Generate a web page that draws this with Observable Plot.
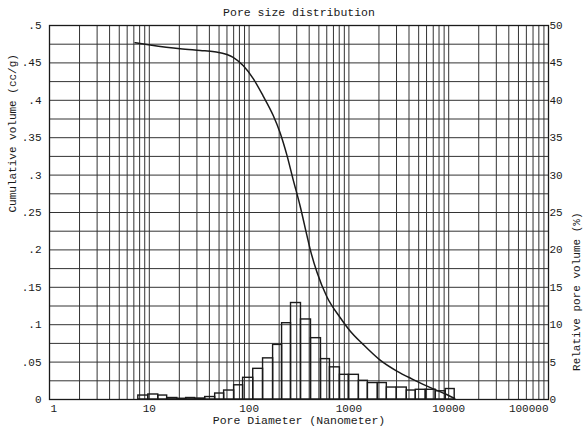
<!DOCTYPE html>
<html>
<head>
<meta charset="utf-8">
<script src="https://cdn.jsdelivr.net/npm/d3@7"></script>
<script src="https://cdn.jsdelivr.net/npm/@observablehq/plot@0.6"></script>
<style>
  html, body { margin: 0; padding: 0; background: #fff; }
</style>
</head>
<body>
<div id="chart"></div>
<script>
// Histogram bin edges (pore diameter, nm) and relative pore volume (%) per bin
const binEdges = [7.76, 9.77, 12.3, 15.1, 19.1, 23.4, 28.8, 36.3, 45.7, 56.2, 70.8, 87.1, 110, 138, 174, 214, 263, 331, 417, 525, 646, 813, 1000, 1259, 1549, 1950, 2399, 3020, 3802, 4677, 5888, 7413, 9333, 11482];
const relVolume = [0.53, 0.67, 0.53, 0.2, 0.1, 0.2, 0.13, 0.33, 0.8, 1.2, 1.9, 2.9, 4.1, 5.5, 7.3, 10.2, 12.9, 10.7, 8.2, 5.4, 4.3, 3.3, 3.3, 2.5, 2.2, 2.2, 1.6, 1.6, 1.2, 1.3, 1.3, 1.1, 1.4];

// Cumulative volume curve (cc/g)
const curveDiameter = [7.2, 10.2, 20.4, 32.4, 45, 60, 69.2, 87.1, 110, 138, 174, 204, 240, 275, 324, 380, 407, 479, 603, 813, 1023, 1380, 2040, 3020, 4365, 6918, 9550, 11482];
const cumVolume = [0.477, 0.474, 0.469, 0.4666, 0.4648, 0.4612, 0.4575, 0.4465, 0.429, 0.406, 0.38, 0.357, 0.326, 0.295, 0.259, 0.219, 0.202, 0.170, 0.137, 0.110, 0.092, 0.074, 0.053, 0.038, 0.027, 0.0145, 0.0067, 0.0013];

// Tick labels
const xTickValues = [1, 10, 100, 1000, 10000, 100000];
const leftTicks = [0, 0.05, 0.1, 0.15, 0.2, 0.25, 0.3, 0.35, 0.4, 0.45, 0.5];
const rightTicks = [0, 5, 10, 15, 20, 25, 30, 35, 40, 45, 50];

const title = "Pore size distribution";
const xLabel = "Pore Diameter (Nanometer)";
const yLabelLeft = "Cumulative volume (cc/g)";
const yLabelRight = "Relative pore volume (%)";

// Derived tables
const bars = relVolume.map((v, i) => ({x1: binEdges[i], x2: binEdges[i + 1], v: v / 100}));
const curve = curveDiameter.map((d, i) => ({d, v: cumVolume[i]}));
const gridX = [];
for (const dec of [1, 10, 100, 1000, 10000]) for (let k = 1; k <= 9; k++) gridX.push(dec * k);
gridX.push(100000);
const gridY = d3.range(0, 0.5001, 0.025);

const font = "Liberation Mono, Courier New, monospace";
const ink = "#1a1a1a";
const leftFmt = d => d === 0 ? "0" : d3.format(".2~f")(d).replace(/^0/, "");

const chart = Plot.plot({
  width: 584,
  height: 428,
  marginLeft: 49,
  marginRight: 36,
  marginTop: 25,
  marginBottom: 29,
  style: {fontFamily: font, fontSize: "11px", background: "#fff", color: ink, overflow: "visible"},
  x: {type: "log", domain: [1, 100000], axis: null},
  y: {domain: [0, 0.5]},
  marks: [
    Plot.ruleX(gridX, {stroke: "#333", strokeWidth: 1}),
    Plot.ruleY(gridY, {stroke: "#333", strokeWidth: 1}),
    Plot.rect(bars, {x1: "x1", x2: "x2", y1: 0, y2: "v", fill: "none", stroke: ink, strokeWidth: 1.4}),
    Plot.line(curve, {x: "d", y: "v", stroke: ink, strokeWidth: 1.5, curve: "monotone-x"}),
    Plot.frame({stroke: ink, strokeWidth: 1.3}),
    Plot.axisY({anchor: "left", ticks: leftTicks, tickSize: 0, tickPadding: 8, tickFormat: leftFmt, label: null, fontSize: 11}),
    Plot.axisY({anchor: "right", ticks: rightTicks.map(d => d / 100), tickSize: 0, tickPadding: 1, tickFormat: d => String(Math.round(d * 100)), label: null, fontSize: 11}),
    Plot.text(xTickValues.slice(1, -1), {x: d => d, text: d => String(d), frameAnchor: "bottom", dy: 9, lineAnchor: "middle", fontSize: 11, fill: ink}),
    Plot.text(xTickValues.slice(0, 1), {x: d => d, text: d => String(d), frameAnchor: "bottom", dy: 9, dx: 1, textAnchor: "start", lineAnchor: "middle", fontSize: 11, fill: ink}),
    Plot.text(xTickValues.slice(-1), {x: d => d, text: d => String(d), frameAnchor: "bottom", dy: 9, textAnchor: "end", lineAnchor: "middle", fontSize: 11, fill: ink}),
    Plot.text([xLabel], {frameAnchor: "bottom", dy: 21, lineAnchor: "middle", fontSize: 11.5, fill: ink}),
    Plot.text([title], {frameAnchor: "top", dy: -13, lineAnchor: "middle", fontSize: 11.5, fill: ink}),
    Plot.text([yLabelLeft], {frameAnchor: "left", dx: -37, rotate: -90, lineAnchor: "middle", fontSize: 11, fill: ink}),
    Plot.text([yLabelRight], {frameAnchor: "right", dx: 28, rotate: -90, lineAnchor: "middle", fontSize: 11, fill: ink})
  ]
});
document.getElementById("chart").append(chart);
</script>
</body>
</html>
